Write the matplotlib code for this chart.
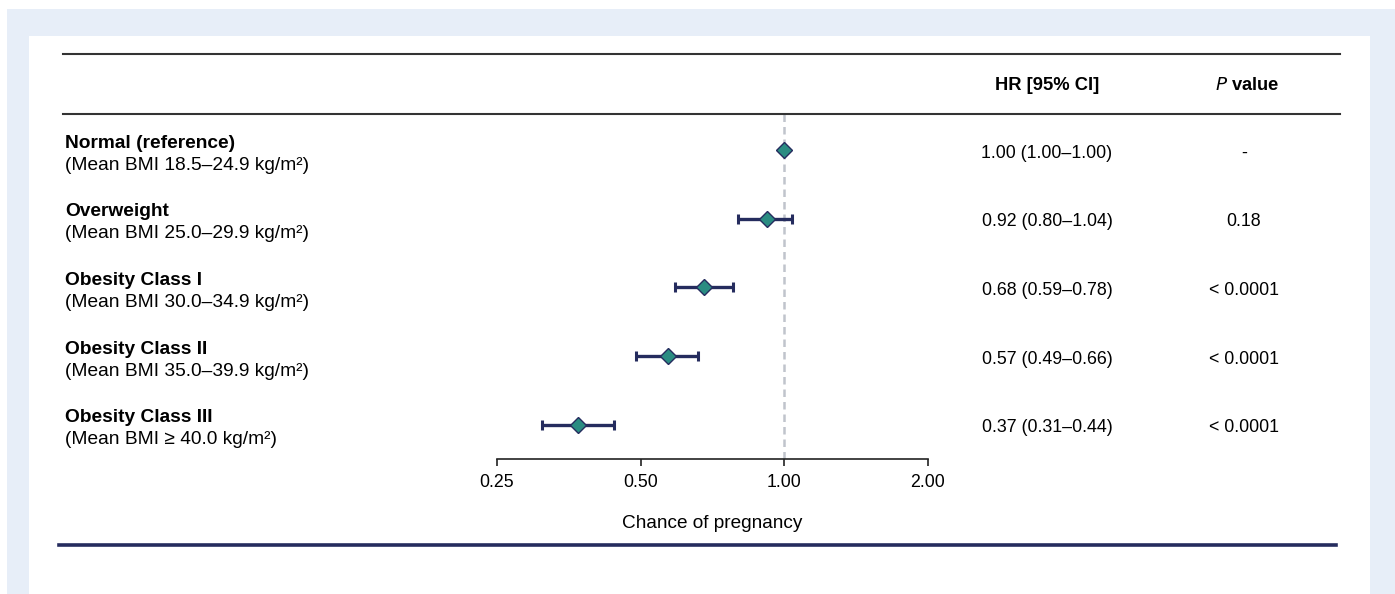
import matplotlib
matplotlib.use("Agg")
from matplotlib import pyplot as plt
from matplotlib.patches import Rectangle
from matplotlib.lines import Line2D

plt.rcParams["font.family"] = ["Liberation Sans", "DejaVu Sans"]

# data
groups = ["Normal (reference)", "Overweight", "Obesity Class I",
          "Obesity Class II", "Obesity Class III"]
bmi_ranges = ["(Mean BMI 18.5\u201324.9 kg/m\u00b2)", "(Mean BMI 25.0\u201329.9 kg/m\u00b2)",
              "(Mean BMI 30.0\u201334.9 kg/m\u00b2)", "(Mean BMI 35.0\u201339.9 kg/m\u00b2)",
              "(Mean BMI \u2265 40.0 kg/m\u00b2)"]
hr = [1.00, 0.92, 0.68, 0.57, 0.37]
ci_low = [1.00, 0.80, 0.59, 0.49, 0.31]
ci_high = [1.00, 1.04, 0.78, 0.66, 0.44]
p_values = ["-", "0.18", "< 0.0001", "< 0.0001", "< 0.0001"]
xticks = [0.25, 0.5, 1.0, 2.0]
xtick_labels = ["0.25", "0.50", "1.00", "2.00"]

W, H = 1395, 594
NAVY = "#252c5e"
TEAL = "#2a8c82"
FS = 12.8
FS_LABEL = 13.8

fig = plt.figure(figsize=(W / 100, H / 100), dpi=100)
fig.patch.set_facecolor("white")


def fx(px):
    return px / W


def fy(py):
    return 1 - py / H


# background panels
fig.patches.append(Rectangle((fx(7), 0), fx(W) - fx(7), fy(9), transform=fig.transFigure,
                             facecolor="#e7eef8", edgecolor="none", zorder=-2))
fig.patches.append(Rectangle((fx(29), 0), fx(1370) - fx(29), fy(36), transform=fig.transFigure,
                             facecolor="white", edgecolor="none", zorder=-1))

# table rules
for yy in (54, 114):
    fig.add_artist(Line2D([fx(63), fx(1340)], [fy(yy), fy(yy)], transform=fig.transFigure,
                          color="#333333", lw=1.5))
fig.add_artist(Line2D([fx(59), fx(1336)], [fy(545), fy(545)], transform=fig.transFigure,
                      color=NAVY, lw=2.6))

# forest plot axes: x 497..928 px, y 114..459 px
ax = fig.add_axes([fx(497), fy(459), fx(928) - fx(497), fy(114) - fy(459)])
ax.set_facecolor("none")
ax.set_xscale("log", base=2)
ax.set_xlim(0.25, 2.0)
ax.set_ylim(4.5, -0.524)
rows = list(range(len(groups)))

ax.axvline(1.0, color="#c0c4cc", lw=1.8, ls=(0, (3, 2)), zorder=1)
err = [[h - l for h, l in zip(hr, ci_low)], [u - h for h, u in zip(hr, ci_high)]]
ax.errorbar(hr, rows, xerr=err, fmt="none", ecolor=NAVY, elinewidth=2.4,
            capsize=3.4, capthick=2.2, zorder=2)
ax.plot(hr, rows, ls="none", marker="D", markersize=8.4, markerfacecolor=TEAL,
        markeredgecolor=NAVY, markeredgewidth=1.0, zorder=3)

for s in ("top", "right", "left"):
    ax.spines[s].set_visible(False)
ax.spines["bottom"].set_linewidth(1.2)
ax.spines["bottom"].set_color("#222222")
ax.set_yticks([])
ax.set_xticks(xticks)
ax.set_xticklabels(xtick_labels, fontsize=FS)
ax.minorticks_off()
ax.tick_params(axis="x", length=5, width=1.2, color="#222222", pad=6)
ax.set_xlabel("Chance of pregnancy", fontsize=13.7, labelpad=17)

# headers
fig.text(fx(1047), fy(86), "HR [95% CI]", fontsize=13.2, fontweight="bold", ha="center", va="center")
fig.text(fx(1247), fy(86), "$\\bf{\\it{P}}$ value", fontsize=13.2, fontweight="bold",
         ha="center", va="center")

# row labels and values
row_px = [150 + 68.7 * i for i in rows]
for i, y in enumerate(row_px):
    fig.text(fx(65), fy(y - 7), groups[i], fontsize=FS_LABEL, fontweight="bold", ha="left", va="center")
    fig.text(fx(65), fy(y + 15), bmi_ranges[i], fontsize=FS_LABEL, ha="left", va="center")
    fig.text(fx(1047), fy(y + 3), f"{hr[i]:.2f} ({ci_low[i]:.2f}\u2013{ci_high[i]:.2f})",
             fontsize=FS, ha="center", va="center")
    fig.text(fx(1244), fy(y + 3), p_values[i], fontsize=FS, ha="center", va="center")

fig.savefig("out.png", dpi=100)
